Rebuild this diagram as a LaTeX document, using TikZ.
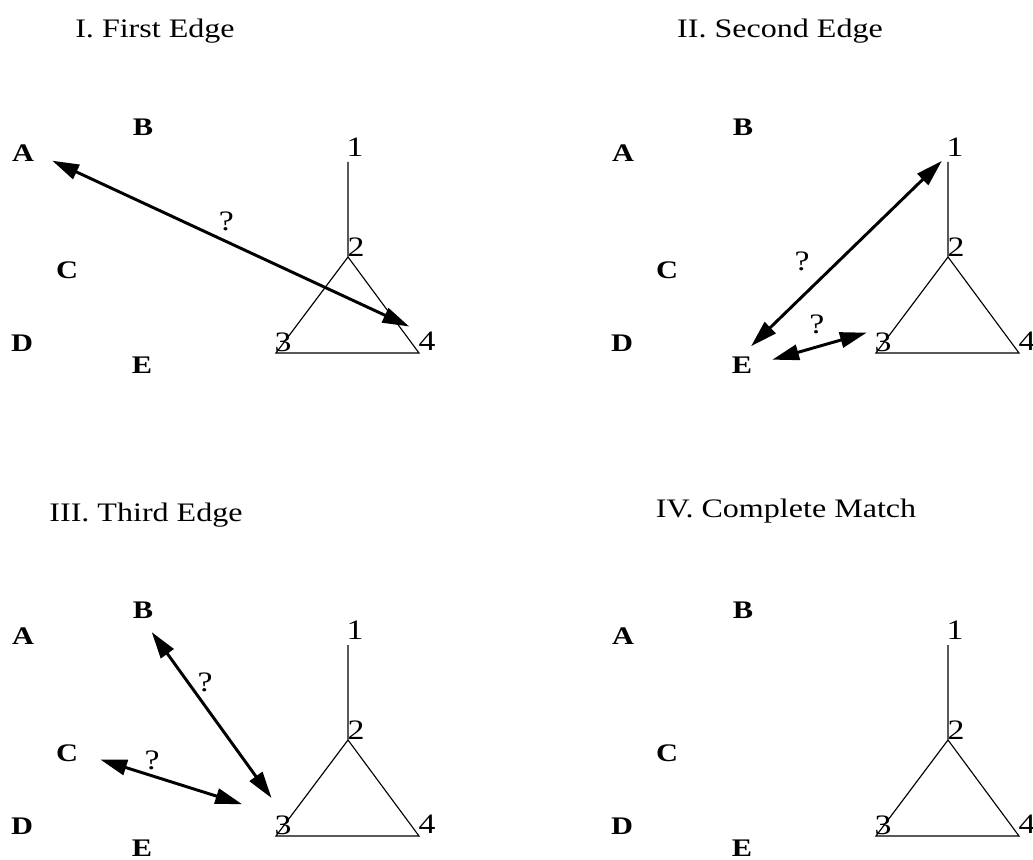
\documentclass[tikz,border=0pt]{standalone}
\usepackage{fontspec}
\setmainfont{Liberation Serif}[FakeStretch=1.2]
\usetikzlibrary{arrows.meta}

\begin{document}
\begin{tikzpicture}[x=0.025cm,y=-0.025cm,>={Triangle[length=19pt,width=11pt]},
  title/.style={font=\fontsize{19}{21}\selectfont},
  letter/.style={font=\fontsize{18}{20}\selectfont\bfseries,inner sep=1pt},
  vlabel/.style={font=\fontsize{20}{22}\selectfont,inner sep=1pt},
  qm/.style={font=\fontsize{20}{22}\selectfont,inner sep=1pt},
  edge/.style={line width=0.8pt},
  match/.style={<->,line width=2.1pt}]
  \useasboundingbox (0,0) rectangle (1033,860);
  % titles
  \node[title] (t1) at (155,31) {I. First Edge};
  \node[title] (t2) at (780,31) {II. Second Edge};
  \node[title] (t3) at (146,515) {III. Third Edge};
  \node[title] (t4) at (786,511) {IV. Complete Match};
  % letters and graph, same in every panel
  \foreach \p/\dx/\dy in {1/0/0,2/600/0,3/0/483,4/600/483} {
    \begin{scope}[shift={(\dx,\dy)}]
      \node[letter] (A-\p) at (23,153) {A};
      \node[letter] (B-\p) at (143,127) {B};
      \node[letter] (C-\p) at (67,270) {C};
      \node[letter] (D-\p) at (22,343) {D};
      \node[letter] (E-\p) at (142,365) {E};
      \coordinate (v1-\p) at (348,162);
      \coordinate (v2-\p) at (348,257);
      \coordinate (v3-\p) at (276,353);
      \coordinate (v4-\p) at (419,353);
      \node[vlabel] (n1-\p) at (355,147) {1};
      \node[vlabel] (n2-\p) at (356,247) {2};
      \node[vlabel] (n3-\p) at (283,342) {3};
      \node[vlabel] (n4-\p) at (427,341) {4};
      \draw[edge] (v1-\p) -- (v2-\p) (v3-\p) -- (v2-\p) -- (v4-\p) -- cycle;
    \end{scope}
  }
  % candidate edges
  \draw[match,shorten <=13pt,shorten >=6pt] (A-1.east) -- node[qm,pos=0.5,yshift=14pt] (q1) {?} (n4-1.north west);
  \draw[match,shorten <=9pt,shorten >=3pt] (E-2.north) -- node[qm,pos=0.38,xshift=-12pt,yshift=13.5pt] (q2) {?} (n1-2.south west);
  \draw[match,shorten <=13.7pt,shorten >=4.6pt] (E-2.east) -- node[qm,pos=0.53,yshift=16pt] (q3) {?} (n3-2.north west);
  \draw[match,shorten <=10.6pt,shorten >=13.9pt] (B-3.south) -- node[qm,pos=0.32,xshift=12.3pt] (q4) {?} (n3-3.north);
  \draw[match,shorten <=15.4pt,shorten >=23pt] (C-3.east) -- node[qm,pos=0.375,yshift=11pt] (q5) {?} (n3-3.north west);
\end{tikzpicture}
\end{document}
